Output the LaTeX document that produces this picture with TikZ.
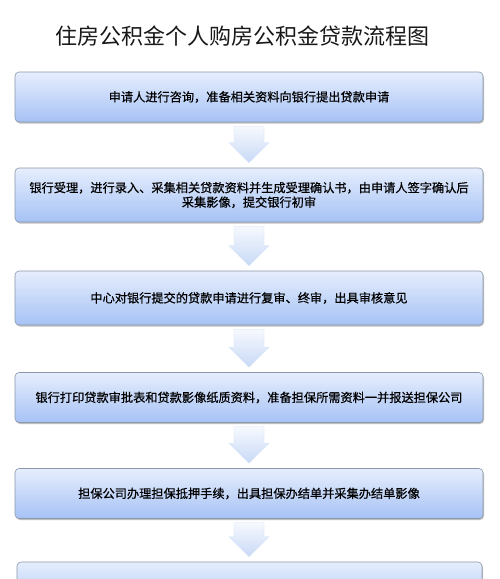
\documentclass[tikz,border=0pt]{standalone}
\usepackage{fontspec}
\setmainfont{Noto Sans CJK SC}
\newfontfamily\stagefont{Noto Sans CJK SC}[FakeBold=0.6]
\usetikzlibrary{calc, shadows}

\definecolor{boxtop}{RGB}{230,238,253}
\definecolor{boxbottom}{RGB}{166,194,245}
\definecolor{boxedge}{RGB}{138,152,172}
\definecolor{arrtop}{RGB}{246,249,254}
\definecolor{arrbottom}{RGB}{200,217,246}
\definecolor{titlegray}{RGB}{25,25,25}

% block arrow from the bottom of one stage to the top of the next
\newcommand{\flowarrow}[2]{%
  \path[blockarrow] let \p1=(#1.south), \p2=(#2.north) in
    (\x1-15pt,\y1-4pt) -- (\x1+15pt,\y1-4pt) -- (\x1+15pt,\y2+25pt)
    -- (\x1+20pt,\y2+25pt) -- (\x1,\y2+5pt) -- (\x1-20pt,\y2+25pt)
    -- (\x1-15pt,\y2+25pt) -- cycle;
}

\begin{document}
\begin{tikzpicture}[
    x=1pt, y=-1pt,
    stage/.style={
        rectangle, draw=boxedge, line width=0.6pt,
        minimum width=468pt, minimum height=50pt, inner sep=0pt,
        align=center, font=\stagefont\fontsize{12.2}{14.5}\selectfont,
        rounded corners=4pt,
        top color=boxtop, bottom color=boxbottom,
        drop shadow={shadow xshift=1pt, shadow yshift=-1.5pt, opacity=0.35, fill=black!70},
    },
    tall/.style={stage, minimum height=54pt},
    blockarrow/.style={top color=arrtop, bottom color=arrbottom, draw=arrbottom!80!white, line width=0.3pt},
    heading/.style={font=\fontsize{22}{26}\selectfont, text=titlegray},
]
\path[use as bounding box, clip] (0,0) rectangle (500,579);
\fill[white] (0,0) rectangle (500,579);

% TITLE
\node[heading] (title) at (242.5, 36) {住房公积金个人购房公积金贷款流程图};

% STAGES
\node[stage] (s1) at (249, 97) {申请人进行咨询，准备相关资料向银行提出贷款申请};
\node[tall] (s2) at (249, 195) {银行受理，进行录入、采集相关贷款资料并生成受理确认书，由申请人签字确认后\\采集影像，提交银行初审};
\node[tall] (s3) at (249, 298) {中心对银行提交的贷款申请进行复审、终审，出具审核意见};
\node[stage] (s4) at (249, 397.5) {银行打印贷款审批表和贷款影像纸质资料，准备担保所需资料一并报送担保公司};
\node[stage] (s5) at (249, 493.5) {担保公司办理担保抵押手续，出具担保办结单并采集办结单影像};
\node[stage, minimum width=465pt] (s6) at (249.5, 587) {};

% ARROWS
\flowarrow{s1}{s2}
\flowarrow{s2}{s3}
\flowarrow{s3}{s4}
\flowarrow{s4}{s5}
\flowarrow{s5}{s6}

\end{tikzpicture}
\end{document}
